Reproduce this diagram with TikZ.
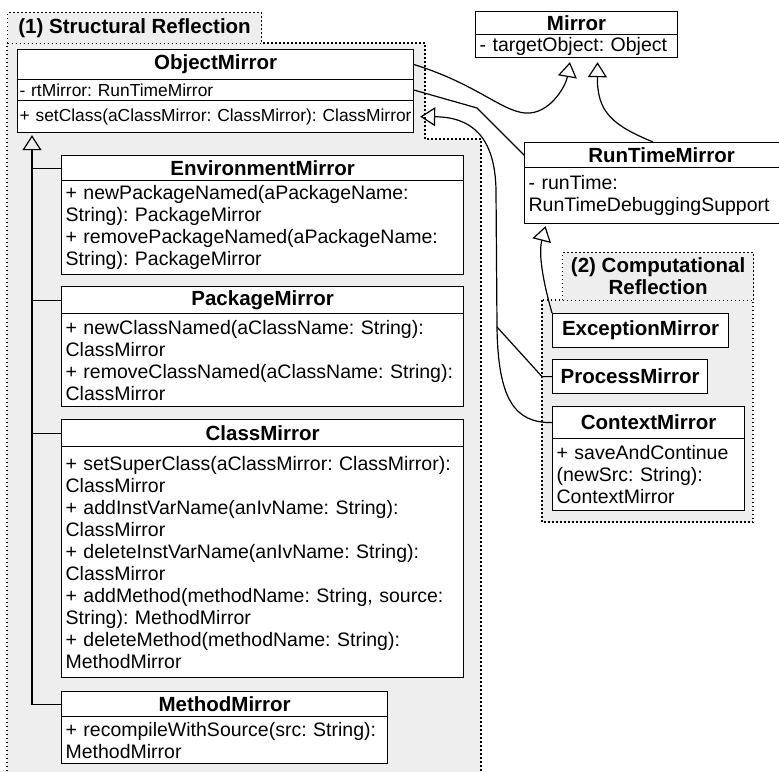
\documentclass[tikz,border=0pt]{standalone}
\usepackage{fontspec}
\setmainfont{Liberation Sans}
\usetikzlibrary{arrows.meta,calc}
\definecolor{grpgray}{HTML}{EEEEEE}
\newcommand\umlbody{\fontsize{19.5}{22}\selectfont\frenchspacing}
\newcommand\umlsmall{\fontsize{17.4}{20}\selectfont\frenchspacing}
\newcommand\umlhead{\bfseries\fontsize{20.5}{22}\selectfont\frenchspacing}
\begin{document}
\begin{tikzpicture}[x=1pt,y=-1pt,
  box/.style={draw=black, line width=1.2pt, fill=white, anchor=north west, inner sep=0pt},
  hdr/.style={box, font=\umlhead, align=center},
  bdy/.style={box, font=\umlbody, align=left, inner xsep=4pt, inner ysep=0pt},
  grpline/.style={draw=black, line width=1.2pt, dash pattern=on 1.5pt off 2.5pt},
  grptab/.style={grpline, fill=grpgray, anchor=north west, inner sep=0pt, font=\umlhead, align=center},
  inh/.style={draw=black, line width=1.2pt, -{Triangle[open,length=15pt,width=19pt]}},
  assoc/.style={draw=black, line width=1.2pt}
]
\useasboundingbox (0,0) rectangle (779,771);
\fill[white] (0,0) rectangle (779,771);

% ---------- group 1 ----------
\fill[grpgray] (7,43) -- (425,43) -- (425,139) -- (481,139) -- (481,775) -- (7,775) -- cycle;
\draw[grpline] (7,775) -- (7,43) -- (425,43) -- (425,139) -- (481,139) -- (481,775);
\node[grptab, minimum width=254pt, minimum height=31pt] (g1tab) at (7,12) {(1) Structural Reflection};

% ---------- group 2 ----------
\filldraw[grpline, fill=grpgray] (542,300) rectangle (753,522);
\node[grptab, minimum width=191pt, minimum height=48pt] (g2tab) at (562,252) {(2) Computational\\Reflection};

% ---------- classes ----------
\node[hdr, minimum width=396pt, minimum height=30pt] (objH) at (17,49) {ObjectMirror};
\node[bdy, font=\umlsmall, text width=392pt, inner xsep=2pt, minimum height=21pt] (objA) at (17,79) {- rtMirror: RunTimeMirror};
\node[bdy, font=\umlsmall, text width=392pt, inner xsep=2pt, minimum height=32pt] (objM) at (17,100) {\mbox{+ setClass(aClassMirror: ClassMirror): ClassMirror}};

\node[hdr, minimum width=202pt, minimum height=23pt] (mirH) at (475,11) {Mirror};
\node[bdy, text width=194pt, minimum height=23pt] (mirB) at (475,34) {- targetObject: Object};

\node[hdr, minimum width=274pt, minimum height=25pt] (rtmH) at (524,142) {RunTimeMirror};
\node[bdy, text width=266pt, minimum height=56pt] (rtmB) at (524,167) {- runTime:\\RunTimeDebuggingSupport};

\node[hdr, minimum width=176pt, minimum height=34pt] (exc) at (552,313) {ExceptionMirror};
\node[hdr, minimum width=155pt, minimum height=34pt] (proc) at (552,359) {ProcessMirror};
\node[hdr, minimum width=192pt, minimum height=32pt] (ctxH) at (552,406) {ContextMirror};
\node[bdy, text width=184pt, minimum height=72pt] (ctxB) at (552,438) {+ saveAndContinue\\(newSrc: String):\\ContextMirror};

\node[hdr, minimum width=402pt, minimum height=25pt] (envH) at (61,155) {EnvironmentMirror};
\node[bdy, text width=394pt, minimum height=94pt] (envB) at (61,180) {+ newPackageNamed(aPackageName:\\String): PackageMirror\\+ removePackageNamed(aPackageName:\\String): PackageMirror};

\node[hdr, minimum width=402pt, minimum height=27pt] (pkgH) at (61,286) {PackageMirror};
\node[bdy, text width=394pt, minimum height=93pt] (pkgB) at (61,313) {+ newClassNamed(aClassName: String):\\ClassMirror\\+ removeClassNamed(aClassName: String):\\ClassMirror};

\node[hdr, minimum width=402pt, minimum height=27pt] (clsH) at (61,419) {ClassMirror};
\node[bdy, text width=394pt, minimum height=231pt] (clsB) at (61,446) {+ setSuperClass(aClassMirror: ClassMirror):\\ClassMirror\\+ addInstVarName(anIvName: String):\\ClassMirror\\+ deleteInstVarName(anIvName: String):\\ClassMirror\\+ addMethod(methodName: String, source:\\String): MethodMirror\\+ deleteMethod(methodName: String):\\MethodMirror};

\node[hdr, minimum width=326pt, minimum height=25pt] (mthH) at (61,691) {MethodMirror};
\node[bdy, text width=318pt, minimum height=47pt] (mthB) at (61,716) {+ recompileWithSource(src: String):\\MethodMirror};

% ---------- connectors ----------
\coordinate (trunk) at (32,0);
\coordinate (split) at (497,327);

\draw[inh, shorten >=2pt] (mthH.west) -| (trunk |- objM.south);
\draw[assoc] (envH.west) -- (envH.west -| trunk);
\draw[assoc] (pkgH.west) -- (pkgH.west -| trunk);
\draw[assoc] (clsH.west) -- (clsH.west -| trunk);

\draw[inh, shorten >=4pt] (objH.east) .. controls (480,85) and (505,115) .. (530,113) .. controls (552,111) and (566,85) .. ([xshift=-6pt]mirB.south);
\draw[inh, shorten >=4pt] ([xshift=129pt]rtmH.north west) .. controls (612,125) and (597,112) .. ([xshift=21pt]mirB.south);
\draw[assoc] (objA.east) -- (477,108) -- (rtmH.west);
\draw[inh, shorten >=2pt] (exc.north west) .. controls (544,285) and (538,255) .. ([xshift=22pt]rtmB.south west);

\draw[assoc] (proc.west) -- ++(-10,0) -- (split);
\draw[assoc] (ctxH.west) .. controls (515,423) and (498,400) .. (split);
\draw[inh, shorten >=6pt] (split) -- (496,190) .. controls (495,135) and (470,117) .. (objM.east);
\end{tikzpicture}
\end{document}
